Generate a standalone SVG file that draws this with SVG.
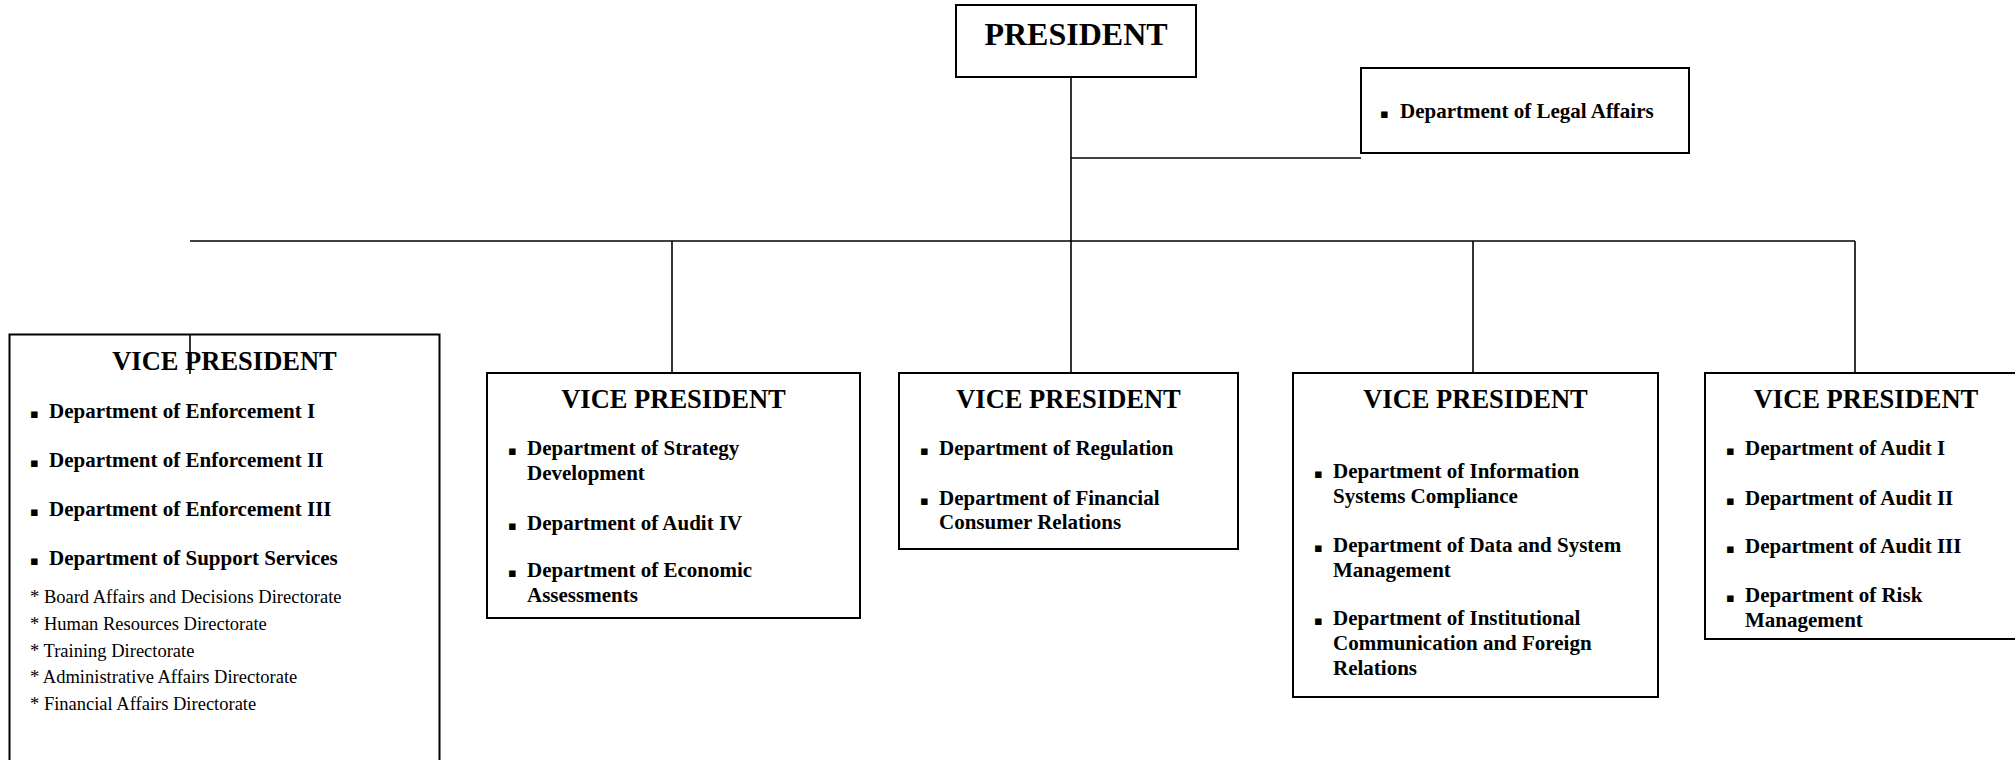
<svg xmlns="http://www.w3.org/2000/svg" width="2015" height="760" viewBox="0 0 2015 760">
<style>
.box{fill:#fff;stroke:#000;stroke-width:2}
.ln{stroke:#000;stroke-width:1.6;fill:none}
.t{font-family:"Liberation Serif","Times New Roman",serif;fill:#000}
.pres{font-size:32px;font-weight:bold;text-anchor:middle}
.vp{font-size:26.5px;font-weight:bold;text-anchor:middle}
.it{font-size:21px;font-weight:bold}
.sub{font-size:18.5px}
.bl{font-family:"DejaVu Sans",sans-serif;font-size:13px;fill:#000}
</style>
<rect width="2015" height="760" fill="#fff"/>
<g id="connectors">
<line class="ln" x1="1071" y1="77" x2="1071" y2="373"/>
<line class="ln" x1="1071" y1="158" x2="1361" y2="158"/>
<line class="ln" x1="190" y1="241" x2="1855" y2="241"/>
<line class="ln" x1="672" y1="241" x2="672" y2="373"/>
<line class="ln" x1="1473" y1="241" x2="1473" y2="373"/>
<line class="ln" x1="1855" y1="241" x2="1855" y2="373"/>
</g>
<g id="president">
<rect class="box" x="956" y="5" width="240" height="72"/>
<text class="t pres" x="1076" y="45">PRESIDENT</text>
</g>
<g id="legal">
<rect class="box" x="1361" y="68" width="328" height="85"/>
<text class="bl" x="1380" y="118">▪</text>
<text class="t it" x="1400" y="118">Department of Legal Affairs</text>
</g>
<g id="vp1">
<rect class="box" x="9.5" y="334.5" width="430" height="450"/>
<text class="t vp" x="224.5" y="370">VICE PRESIDENT</text>
<text class="bl" x="30" y="418">▪</text><text class="t it" x="49" y="418">Department of Enforcement I</text>
<text class="bl" x="30" y="467">▪</text><text class="t it" x="49" y="467">Department of Enforcement II</text>
<text class="bl" x="30" y="516">▪</text><text class="t it" x="49" y="516">Department of Enforcement III</text>
<text class="bl" x="30" y="565">▪</text><text class="t it" x="49" y="565">Department of Support Services</text>
<text class="t sub" x="30" y="603">* Board Affairs and Decisions Directorate</text>
<text class="t sub" x="30" y="630">* Human Resources Directorate</text>
<text class="t sub" x="30" y="657">* Training Directorate</text>
<text class="t sub" x="30" y="683">* Administrative Affairs Directorate</text>
<text class="t sub" x="30" y="710">* Financial Affairs Directorate</text>
</g>
<line class="ln" x1="190" y1="334" x2="190" y2="374"/>
<g id="vp2">
<rect class="box" x="487" y="373" width="373" height="245"/>
<text class="t vp" x="673.5" y="408">VICE PRESIDENT</text>
<text class="bl" x="508" y="455">▪</text><text class="t it" x="527" y="455">Department of Strategy</text>
<text class="t it" x="527" y="480">Development</text>
<text class="bl" x="508" y="530">▪</text><text class="t it" x="527" y="530">Department of Audit IV</text>
<text class="bl" x="508" y="577">▪</text><text class="t it" x="527" y="577">Department of Economic</text>
<text class="t it" x="527" y="602">Assessments</text>
</g>
<g id="vp3">
<rect class="box" x="899" y="373" width="339" height="176"/>
<text class="t vp" x="1068.5" y="408">VICE PRESIDENT</text>
<text class="bl" x="920" y="455">▪</text><text class="t it" x="939" y="455">Department of Regulation</text>
<text class="bl" x="920" y="505">▪</text><text class="t it" x="939" y="505">Department of Financial</text>
<text class="t it" x="939" y="529">Consumer Relations</text>
</g>
<g id="vp4">
<rect class="box" x="1293" y="373" width="365" height="324"/>
<text class="t vp" x="1475.5" y="408">VICE PRESIDENT</text>
<text class="bl" x="1314" y="478">▪</text><text class="t it" x="1333" y="478">Department of Information</text>
<text class="t it" x="1333" y="503">Systems Compliance</text>
<text class="bl" x="1314" y="552">▪</text><text class="t it" x="1333" y="552">Department of Data and System</text>
<text class="t it" x="1333" y="577">Management</text>
<text class="bl" x="1314" y="625">▪</text><text class="t it" x="1333" y="625">Department of Institutional</text>
<text class="t it" x="1333" y="650">Communication and Foreign</text>
<text class="t it" x="1333" y="675">Relations</text>
</g>
<g id="vp5">
<rect class="box" x="1705" y="373" width="330" height="266"/>
<text class="t vp" x="1866" y="408">VICE PRESIDENT</text>
<text class="bl" x="1726" y="455">▪</text><text class="t it" x="1745" y="455">Department of Audit I</text>
<text class="bl" x="1726" y="505">▪</text><text class="t it" x="1745" y="505">Department of Audit II</text>
<text class="bl" x="1726" y="553">▪</text><text class="t it" x="1745" y="553">Department of Audit III</text>
<text class="bl" x="1726" y="602">▪</text><text class="t it" x="1745" y="602">Department of Risk</text>
<text class="t it" x="1745" y="627">Management</text>
</g>
</svg>
